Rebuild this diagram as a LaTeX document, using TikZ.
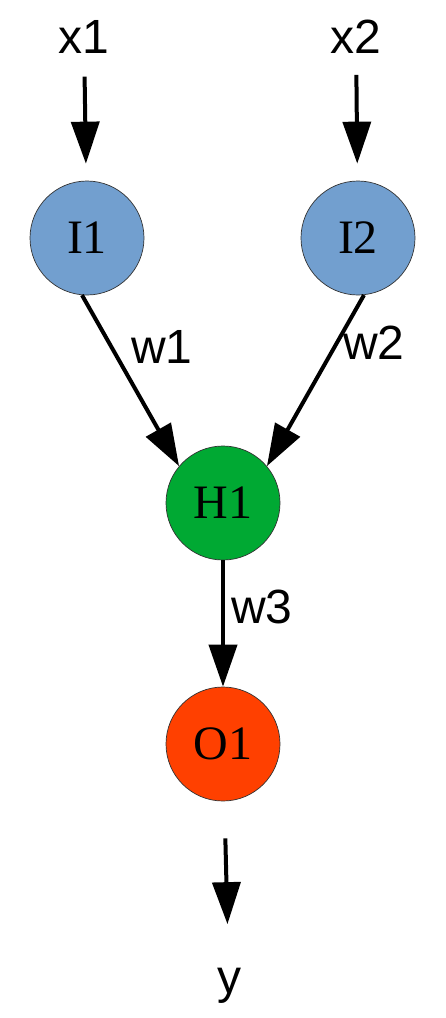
\documentclass[tikz,border=0pt]{standalone}
\usepackage{fontspec}
\setmainfont{Liberation Serif}
\newfontfamily\labelsans{Liberation Sans}
\usetikzlibrary{arrows.meta}
\definecolor{inblue}{HTML}{729FCF}
\definecolor{hidgreen}{HTML}{00A933}
\definecolor{outred}{HTML}{FF4000}
\tikzset{
  neuron/.style={circle, draw=black!80, line width=0.7pt, minimum size=114pt, inner sep=0pt,
    font=\fontsize{48}{48}\selectfont},
  sig/.style={inner sep=0pt, font=\labelsans\fontsize{48}{48}\selectfont},
  wlab/.style={inner sep=0pt, font=\labelsans\fontsize{48}{48}\selectfont},
  arr/.style={line width=4pt, -{Triangle[length=42pt,width=28pt]}}
}
\begin{document}
\begin{tikzpicture}[x=1pt,y=1pt]
\useasboundingbox (0,0) rectangle (446,-1018);
\node[sig] (x1) at (84,-37) {x1};
\node[sig] (x2) at (356,-37) {x2};
\node[neuron, fill=inblue] (I1) at (87,-238) {I1};
\node[neuron, fill=inblue] (I2) at (358,-238) {I2};
\node[neuron, fill=hidgreen] (H1) at (223,-503) {H1};
\node[neuron, fill=outred] (O1) at (223,-744) {O1};
\node[sig] (y) at (229,-986) {y};
\draw[arr, shorten <=23pt, shorten >=17pt] (x1) -- (I1);
\draw[arr, shorten <=21pt, shorten >=17pt] (x2) -- (I2);
\draw[arr] (I1.265) -- (H1.140);
\draw[arr] (I2.276) -- (H1.40);
\draw[arr] (H1.south) -- (O1.north);
\draw[arr, shorten <=37pt, shorten >=44pt] (O1) -- (y);
\node[wlab] (w1) at (162,-347) {w1};
\node[wlab] (w2) at (374,-343) {w2};
\node[wlab] (w3) at (262,-607) {w3};
\end{tikzpicture}
\end{document}
